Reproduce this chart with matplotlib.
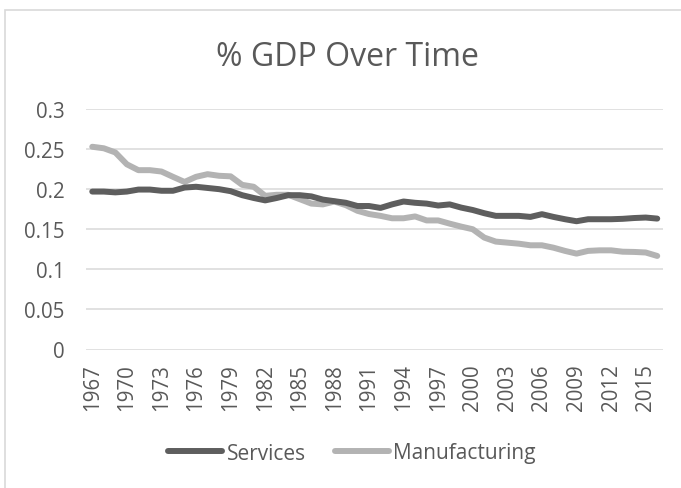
import matplotlib
matplotlib.use("Agg")
import matplotlib.pyplot as plt
from matplotlib.patches import Rectangle
from matplotlib.ticker import FuncFormatter

years = list(range(1967, 2017))
services = [0.197, 0.197, 0.196, 0.197, 0.1995, 0.1995, 0.198, 0.198, 0.202, 0.203,
            0.2015, 0.200, 0.1975, 0.1925, 0.189, 0.186, 0.189, 0.1925, 0.1925, 0.191,
            0.187, 0.185, 0.183, 0.179, 0.179, 0.1766, 0.181, 0.1846, 0.183, 0.182,
            0.1796, 0.181, 0.177, 0.174, 0.170, 0.1667, 0.1667, 0.1667, 0.1654, 0.1688,
            0.1654, 0.1625, 0.160, 0.1625, 0.1625, 0.1625, 0.163, 0.164, 0.1646, 0.1633]
manufacturing = [0.2529, 0.251, 0.2458, 0.231, 0.2237, 0.2237, 0.222, 0.2154, 0.209, 0.2154,
                 0.2187, 0.2167, 0.216, 0.2054, 0.203, 0.1917, 0.193, 0.193, 0.1875, 0.182,
                 0.181, 0.1846, 0.180, 0.173, 0.169, 0.1667, 0.1637, 0.1637, 0.166, 0.161,
                 0.161, 0.157, 0.1533, 0.150, 0.1396, 0.1346, 0.1333, 0.132, 0.130, 0.130,
                 0.127, 0.123, 0.1196, 0.123, 0.1237, 0.1237, 0.122, 0.1217, 0.121, 0.1167]
xtick_years = list(range(1967, 2017, 3))
yticks = [0, 0.05, 0.1, 0.15, 0.2, 0.25, 0.3]

W, H = 681, 489
fig = plt.figure(figsize=(W / 100, H / 100), dpi=100)
plt.rcParams['font.family'] = ['Open Sans', 'DejaVu Sans']
txt = '#595959'

# outer chart border
fig.patches.append(Rectangle((5 / W, -0.1), 1.2, (H - 11) / H + 0.1,
                             transform=fig.transFigure, fill=False,
                             edgecolor='#D9D9D9', linewidth=1.2))

left, right = 86.5, 663
bottom, top = 350.5, 110
ax = fig.add_axes([left / W, 1 - bottom / H, (right - left) / W, (bottom - top) / H])
ax.plot(years, services, color='#5E5E5E', linewidth=4.3, solid_capstyle='round',
        label='Services', zorder=3)
ax.plot(years, manufacturing, color='#B3B3B3', linewidth=4.3, solid_capstyle='round',
        label='Manufacturing', zorder=2)

ax.set_xlim(1966.5, 2016.5)
ax.set_ylim(0, 0.3)
ax.set_yticks(yticks)
ax.yaxis.set_major_formatter(FuncFormatter(lambda v, p: f"{v:g}"))
ax.set_xticks(xtick_years)
ax.set_xticklabels([str(y) for y in xtick_years], rotation=90)
ax.grid(axis='y', color='#D9D9D9', linewidth=1.1)
ax.set_axisbelow(True)
for s in ax.spines.values():
    s.set_visible(False)
ax.tick_params(axis='both', length=0, labelsize=14.8, colors=txt)
ax.tick_params(axis='y', pad=16)
ax.tick_params(axis='x', pad=10)

fig.text(347 / W, 1 - 66.5 / H, '% GDP Over Time', ha='center', va='baseline',
         fontsize=23, color=txt)

leg = fig.legend(loc='center', bbox_to_anchor=(352 / W, 1 - 454 / H), ncol=2,
                 frameon=False, fontsize=15, handlelength=2.6, handletextpad=0.2,
                 columnspacing=1.4)
for t in leg.get_texts():
    t.set_color(txt)

fig.savefig('out.png', dpi=100)
